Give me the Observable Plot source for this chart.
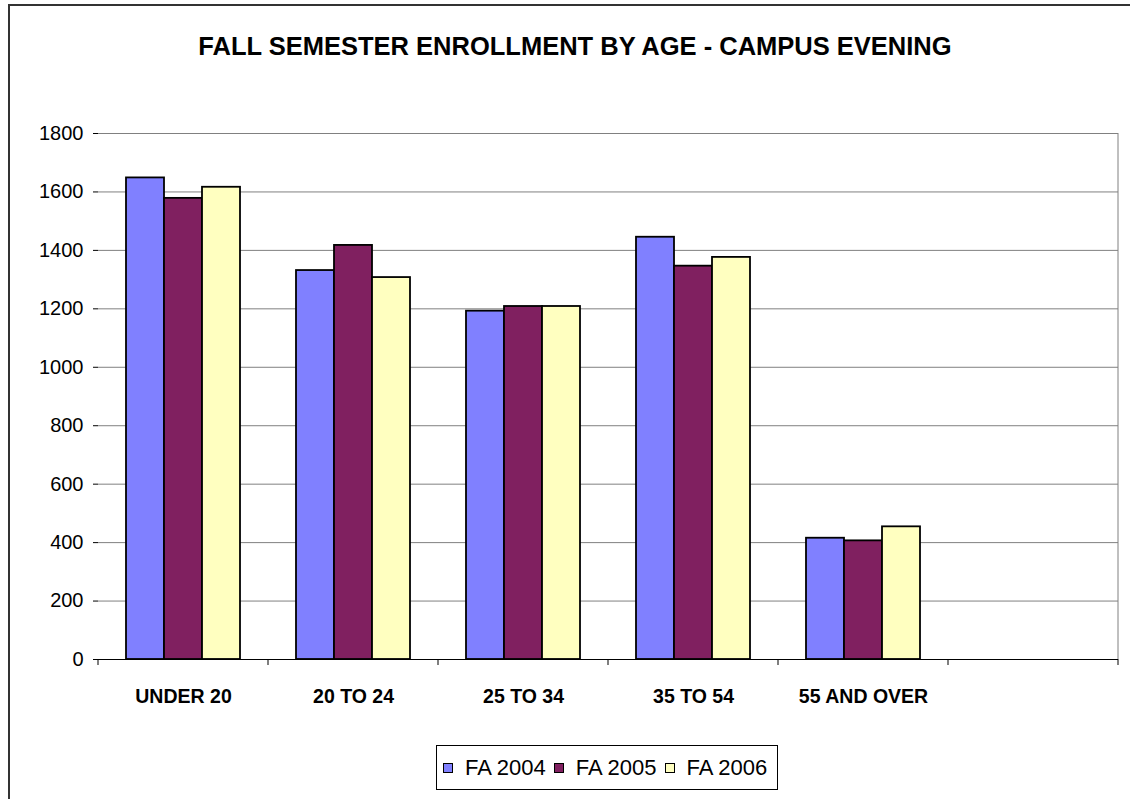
<!DOCTYPE html>
<html>
<head>
<meta charset="utf-8">
<script src="https://cdn.jsdelivr.net/npm/d3@7"></script>
<script src="https://cdn.jsdelivr.net/npm/@observablehq/plot@0.6"></script>
<style>
  html, body { margin: 0; padding: 0; background: #fff; overflow: hidden; }
  body { width: 1130px; height: 799px; position: relative;
         font-family: "Liberation Sans", Arial, sans-serif; }
  #frame { position: absolute; left: 8px; top: 4px; width: 1122px; height: 795px;
           border-left: 2px solid #333; border-top: 2px solid #333; box-sizing: border-box; }
  #title { position: absolute; left: 0; width: 1110px; padding-left: 20px; top: 31px; text-align: center;
           font-size: 25.5px; font-weight: bold; color: #000; line-height: 30px; }
  #chart { position: absolute; left: 0; top: 100px; }
  #legend { position: absolute; left: 436px; top: 745px; width: 342px; height: 45px;
            border: 1px solid #000; box-sizing: border-box; display: flex; align-items: center;
            padding-left: 6px; font-size: 22px; color: #000; }
  .item { display: flex; align-items: center; margin-right: 8px; }
  .sw { width: 8px; height: 8px; border: 1px solid #000; margin-right: 12px; }
</style>
</head>
<body>
<div id="frame"></div>
<div id="title">FALL SEMESTER ENROLLMENT BY AGE - CAMPUS EVENING</div>
<div id="chart"></div>
<div id="legend"></div>
<script>
const categories = ["UNDER 20", "20 TO 24", "25 TO 34", "35 TO 54", "55 AND OVER", ""];
const series = ["FA 2004", "FA 2005", "FA 2006"];
const fa2004 = [1648, 1331, 1192, 1445, 415];
const fa2005 = [1578, 1417, 1208, 1346, 406];
const fa2006 = [1616, 1307, 1208, 1376, 454];
const yTicks = [0, 200, 400, 600, 800, 1000, 1200, 1400, 1600, 1800];
const colors = ["#8080FF", "#802060", "#FFFFC0"];

const values = [fa2004, fa2005, fa2006];
const rows = [];
categories.forEach((c, i) => {
  series.forEach((s, j) => {
    if (values[j][i] !== undefined) rows.push({cat: c, series: s, value: values[j][i]});
  });
});
// gridlines for every category panel (keeps the empty last panel drawn)
const gridRows = [];
categories.forEach(c => yTicks.slice(1).forEach(v => gridRows.push({cat: c, v})));
const baseRows = categories.map(c => ({cat: c, v: 0}));

const chart = Plot.plot({
  width: 1130,
  height: 640,
  marginLeft: 95,
  marginRight: 10,
  marginTop: 33,
  marginBottom: 81,
  style: {fontFamily: "'Liberation Sans', Arial, sans-serif", color: "#000", background: "transparent"},
  fx: {domain: categories, padding: 0, label: null},
  x: {domain: series, paddingInner: 0, paddingOuter: 0.72, axis: null},
  y: {domain: [0, 1800], label: null},
  color: {domain: series, range: colors},
  marks: [
    Plot.ruleY(gridRows, {fx: "cat", y: "v", stroke: "#808080", strokeWidth: 1}),
    Plot.barY(rows, {fx: "cat", x: "series", y: "value", fill: "series", stroke: "#000", strokeWidth: 1.8}),
    Plot.ruleY(baseRows, {fx: "cat", y: "v", stroke: "#000", strokeWidth: 1}),
    Plot.axisY(yTicks, {anchor: "left", tickSize: 5, tickPadding: 10, fontSize: 20, line: true,
                        label: null, stroke: "#000", tickFormat: d => String(d)}),
    Plot.axisFx({anchor: "bottom", tickSize: 0, tickPadding: 30, fontSize: 19.5, fontWeight: "bold", label: null})
  ]
});

// category boundary ticks and right plot border, placed with Plot's own scales
const fx = chart.scale("fx");
const y = chart.scale("y");
const svg = d3.select(chart);
const g = svg.append("g");
const bounds = fx.domain.map(k => fx.apply(k));
const xEnd = fx.apply(fx.domain[fx.domain.length - 1]) + fx.bandwidth;
bounds.push(xEnd);
g.selectAll("line.bt").data(bounds).join("line")
  .attr("x1", d => d).attr("x2", d => d)
  .attr("y1", y.apply(0)).attr("y2", y.apply(0) + 6)
  .attr("stroke", "#000");
g.append("line")
  .attr("x1", xEnd).attr("x2", xEnd)
  .attr("y1", y.apply(1800)).attr("y2", y.apply(0))
  .attr("stroke", "#808080");

document.getElementById("chart").appendChild(chart);

const legend = d3.select("#legend");
series.forEach((s, i) => {
  const it = legend.append("div").attr("class", "item");
  it.append("div").attr("class", "sw").style("background", colors[i]);
  it.append("span").text(s);
});
</script>
</body>
</html>
